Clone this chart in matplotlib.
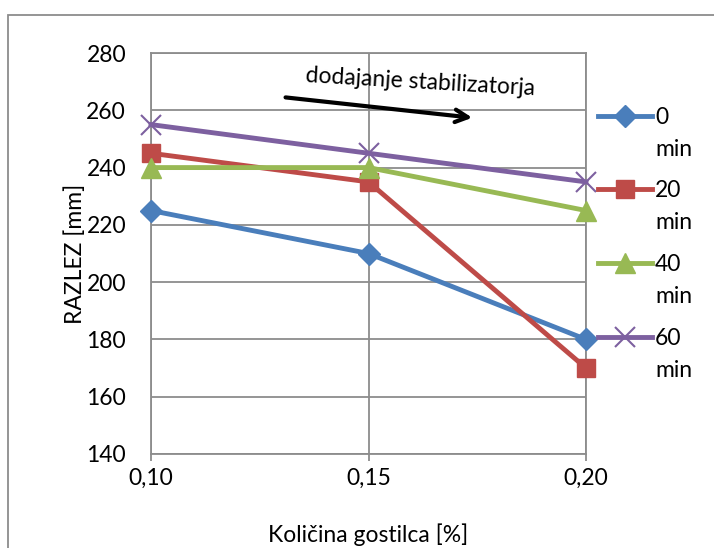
import matplotlib
matplotlib.use("Agg")
import matplotlib.pyplot as plt
from matplotlib.patches import Rectangle

x_vals = [0.10, 0.15, 0.20]
x_labels = ["0,10", "0,15", "0,20"]
series_names = ["0", "20", "40", "60"]
unit_label = "min"
s0 = [225, 210, 180]
s20 = [245, 235, 170]
s40 = [240, 240, 225]
s60 = [255, 245, 235]
y_ticks = [140, 160, 180, 200, 220, 240, 260, 280]

plt.rcParams['font.family'] = ['Lato', 'DejaVu Sans']
FS = 16.5

fig = plt.figure(figsize=(7.14, 5.48), dpi=100)
ax = fig.add_axes([151/714, 1-454/548, (586-151)/714, (454-53)/548])

styles = [
    dict(color="#4A7EBB", marker="D", ms=11),
    dict(color="#BE4B48", marker="s", ms=13),
    dict(color="#98B954", marker="^", ms=14),
    dict(color="#7D60A0", marker="x", ms=14, mew=1.5),
]
for data, name, st in zip([s0, s20, s40, s60], series_names, styles):
    ax.plot(x_vals, data, lw=3.5, label=name, clip_on=False, zorder=3, **st)

ax.set_xlim(0.10, 0.20)
ax.set_ylim(140, 280)
ax.set_xticks(x_vals)
ax.set_xticklabels(x_labels, fontsize=FS)
ax.set_yticks(y_ticks)
ax.set_yticklabels([str(v) for v in y_ticks], fontsize=FS)
ax.grid(True, color="#8c8c8c", lw=1.3)
for sp in ax.spines.values():
    sp.set_color("#8c8c8c")
    sp.set_linewidth(1.3)
ax.tick_params(axis="x", length=5, width=1.3, color="#8c8c8c", pad=5)
ax.tick_params(axis="y", length=0, pad=18)
ax.set_xlabel("Količina gostilca [%]", fontsize=FS, labelpad=25)
ax.set_ylabel("RAZLEZ [mm]", fontsize=FS, labelpad=0)

ax.annotate("", xy=(0.1745, 257.3), xytext=(0.1303, 264.6),
            arrowprops=dict(arrowstyle="->,head_length=0.9,head_width=0.45", lw=3, color="black"))
ax.text(0.1618, 270.0, "dodajanje stabilizatorja", fontsize=FS, rotation=-3.3,
        ha="center", va="center")

leg = ax.legend(loc="upper left", bbox_to_anchor=(1.027, 0.866), frameon=False, fontsize=FS,
                handlelength=2.35, handletextpad=0.15, labelspacing=2.3, borderaxespad=0.0,
                borderpad=0.0)

fig.canvas.draw()
W, H = fig.bbox.width, fig.bbox.height
for t in leg.get_texts():
    bb = t.get_window_extent()
    fig.text(bb.x0 / W, (bb.y0 - 32) / H, unit_label, fontsize=FS, ha="left", va="bottom")

fig.patches.append(Rectangle((8/714, -0.1), 1.2, 1-15/548+0.1, transform=fig.transFigure,
                             fill=False, edgecolor="#8c8c8c", lw=1.3))

fig.savefig("out.png", dpi=100)
